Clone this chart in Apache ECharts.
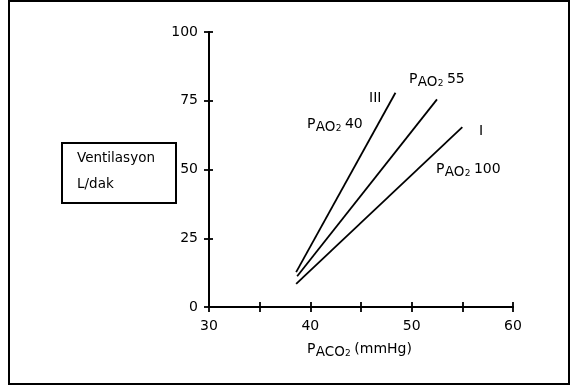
<!DOCTYPE html>
<html>
<head>
<meta charset="utf-8">
<script src="https://cdn.jsdelivr.net/npm/echarts@6/dist/echarts.min.js"></script>
<style>html,body{margin:0;padding:0;background:#fff}#c{width:571px;height:387px}</style>
</head>
<body>
<div id="c"></div>
<script>
const xTicks = [30, 35, 40, 45, 50, 55, 60];
const yTicks = [0, 25, 50, 75, 100];
const seriesNames = ['PAO2 40 (III)', 'PAO2 55', 'PAO2 100 (I)'];
const line40_x = [38.6, 48.4];
const line40_y = [12.7, 77.9];
const line55_x = [38.7, 52.5];
const line55_y = [11.2, 75.5];
const line100_x = [38.6, 55.0];
const line100_y = [8.4, 65.4];

const FONT = '"DejaVu Sans", "Liberation Sans", Arial, sans-serif';
const chart = echarts.init(document.getElementById('c'), null, {renderer: 'canvas'});
const mctx = document.createElement('canvas').getContext('2d');
function tw(s, size) { mctx.font = size + 'px ' + FONT; return mctx.measureText(s).width; }

function pts(xs, ys) { return xs.map((x, i) => [x, ys[i]]); }
function lineSeries(name, xs, ys) {
  return {
    name: name, type: 'line', data: pts(xs, ys), symbol: 'none',
    lineStyle: {color: '#000', width: 1.8}, animation: false, silent: true,
    xAxisIndex: 0, yAxisIndex: 0
  };
}
function txt(x, y, s, size) {
  return {type: 'text', left: x, top: y, silent: true,
    style: {text: s, font: size + 'px ' + FONT, fill: '#000'}};
}
// P with subscript: pieces laid out sequentially from xP
function pLabel(capTop, xP, sub, num) {
  const SZ = 14, SUB = 13.5, SUB2 = 9;
  const xSub = xP + tw('P', SZ) + 0.3;
  const x2 = xSub + tw(sub, SUB) + 0.3;
  const xN = x2 + tw('2', SUB2) + 3.5;
  return [
    txt(xP, capTop - 2.5, 'P', SZ),
    txt(xSub, capTop + 0.5, sub, SUB),
    txt(x2, capTop + 4, '2', SUB2),
    txt(xN, capTop - 2.5, num, SZ)
  ];
}

const xMin = xTicks[0], xMax = xTicks[xTicks.length - 1];
const yMin = yTicks[0], yMax = yTicks[yTicks.length - 1];

const axisCommon = {
  axisLine: {show: true, lineStyle: {color: '#000', width: 2}},
  splitLine: {show: false}
};

chart.setOption({
  animation: false,
  grid: {left: 209, top: 32, width: 304, height: 275},
  xAxis: [
    Object.assign({}, axisCommon, {
      type: 'value', min: xMin, max: xMax, interval: 5,
      axisTick: {show: true, length: 5, inside: false, lineStyle: {color: '#000', width: 1.8}},
      axisLabel: {show: true, margin: 12, fontSize: 14, fontFamily: FONT, color: '#000',
        formatter: v => (v % 10 === 0 ? String(v) : '')}
    }),
    Object.assign({}, axisCommon, {
      type: 'value', min: xMin, max: xMax, interval: 5, position: 'bottom',
      axisTick: {show: true, length: 5, inside: true, lineStyle: {color: '#000', width: 1.8}},
      axisLabel: {show: false}
    })
  ],
  yAxis: [
    Object.assign({}, axisCommon, {
      type: 'value', min: yMin, max: yMax, interval: 25,
      axisTick: {show: true, length: 5, inside: false, lineStyle: {color: '#000', width: 1.8}},
      axisLabel: {show: true, margin: 11, fontSize: 14, fontFamily: FONT, color: '#000'}
    }),
    Object.assign({}, axisCommon, {
      type: 'value', min: yMin, max: yMax, interval: 25, position: 'left',
      axisTick: {show: true, length: 4, inside: true, lineStyle: {color: '#000', width: 1.8}},
      axisLabel: {show: false}
    })
  ],
  series: [
    lineSeries(seriesNames[0], line40_x, line40_y),
    lineSeries(seriesNames[1], line55_x, line55_y),
    lineSeries(seriesNames[2], line100_x, line100_y)
  ],
  graphic: [
    {type: 'rect', silent: true, shape: {x: 9, y: 1, width: 560, height: 383},
      style: {fill: 'none', stroke: '#000', lineWidth: 2}},
    {type: 'rect', silent: true, shape: {x: 62, y: 143, width: 114, height: 60},
      style: {fill: 'none', stroke: '#000', lineWidth: 2}},
    txt(77, 151, 'Ventilasyon', 13.5),
    txt(77, 177, 'L/dak', 13.5),
    txt(369, 91, 'III', 14),
    txt(479, 124, 'I', 14)
  ].concat(pLabel(120, 307, 'AO', '40'))
   .concat(pLabel(75, 409, 'AO', '55'))
   .concat(pLabel(165, 436, 'AO', '100'))
   .concat(pLabel(345, 307, 'ACO', '(mmHg)'))
});
</script>
</body>
</html>
